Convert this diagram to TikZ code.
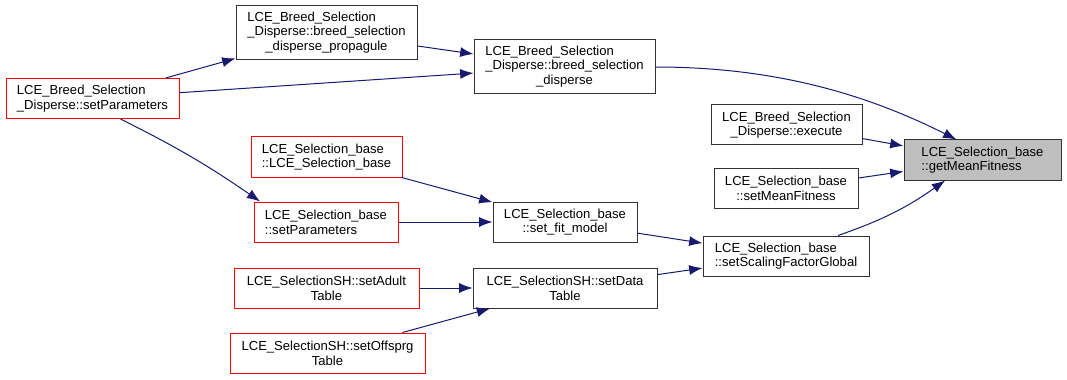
\documentclass[tikz,border=0pt]{standalone}
\usepackage{fontspec}
\setmainfont{Liberation Sans}
\usetikzlibrary{arrows.meta}
\definecolor{boxcol}{RGB}{50,50,50}
\definecolor{extcol}{RGB}{255,0,0}
\definecolor{focuscol}{RGB}{191,191,191}
\definecolor{callcol}{RGB}{25,25,112}
\newcommand{\dxfont}{\fontsize{9.8}{11}\selectfont}
\newcommand{\threeline}[3]{\begin{tabular}{@{}l@{}}#1\\#2\\\multicolumn{1}{@{}c@{}}{#3}\end{tabular}}
\tikzset{
  fn/.style    = {rectangle, draw=boxcol, fill=white, line width=0.75pt,
                  align=center, font=\dxfont, inner sep=0pt,
                  minimum height=30pt, minimum width=#1},
  ext/.style   = {fn=#1, draw=extcol},
  focus/.style = {fn=#1, fill=focuscol},
  call/.style  = {-{Latex[length=10pt,width=7.5pt]}, draw=callcol, line width=0.75pt},
}

\begin{document}
\begin{tikzpicture}[x=0.75pt, y=0.75pt]
  \useasboundingbox (0,0) rectangle (1067,379);

  % the function itself
  \node[focus=117.75pt, align=left] (gm) at (982.5,219)
       {LCE\_Selection\_base\\::getMeanFitness};

  % direct callers
  \node[fn=135.75pt, minimum height=40.5pt] (bd) at (564.5,312)
       {\threeline{LCE\_Breed\_Selection}{\_Disperse::breed\_selection}{\_disperse}};
  \node[fn=113.25pt] (bex) at (786.5,254)
       {LCE\_Breed\_Selection\\\_Disperse::execute};
  \node[fn=108pt] (smf) at (786,190.5)
       {LCE\_Selection\_base\\::setMeanFitness};
  \node[fn=124.5pt, align=left] (ssf) at (786,123)
       {LCE\_Selection\_base\\::setScalingFactorGlobal};

  % second level
  \node[fn=135.75pt, minimum height=40.5pt] (bp) at (326.5,346)
       {\threeline{LCE\_Breed\_Selection}{\_Disperse::breed\_selection}{\_disperse\_propagule}};
  \node[fn=108pt] (sfm) at (565,157)
       {LCE\_Selection\_base\\::set\_fit\_model};
  \node[fn=138pt] (sdt) at (565,91)
       {LCE\_SelectionSH::setData\\Table};

  % outer callers
  \node[ext=129.75pt, align=left] (bsp) at (92.5,280.5)
       {LCE\_Breed\_Selection\\\_Disperse::setParameters};
  \node[ext=113.25pt, align=left] (sbc) at (326.5,222)
       {LCE\_Selection\_base\\::LCE\_Selection\_base};
  \node[ext=108pt, align=left] (ssp) at (326,157)
       {LCE\_Selection\_base\\::setParameters};
  \node[ext=138.75pt] (sad) at (326.5,91)
       {LCE\_SelectionSH::setAdult\\Table};
  \node[ext=146.25pt] (sof) at (327.5,26)
       {LCE\_SelectionSH::setOffsprg\\Table};

  \foreach \a/\b in {bsp/bp, bsp/bd, bp/bd, bex/gm, smf/gm, sbc/sfm, ssp/sfm,
                     sfm/ssf, sdt/ssf, sad/sdt, sof/sdt}
    \draw[call] (\a) -- (\b);

  \draw[call] (bd.east) .. controls +(130,0) and +(-80,40) .. ([xshift=-19.5pt]gm.north);
  \draw[call] ([xshift=39pt]ssf.north) to[bend right=8] ([xshift=-28pt]gm.south);
  \draw[call] ([xshift=21pt]bsp.south) to[bend left=4] ([xshift=5pt]ssp.north west);
\end{tikzpicture}
\end{document}
